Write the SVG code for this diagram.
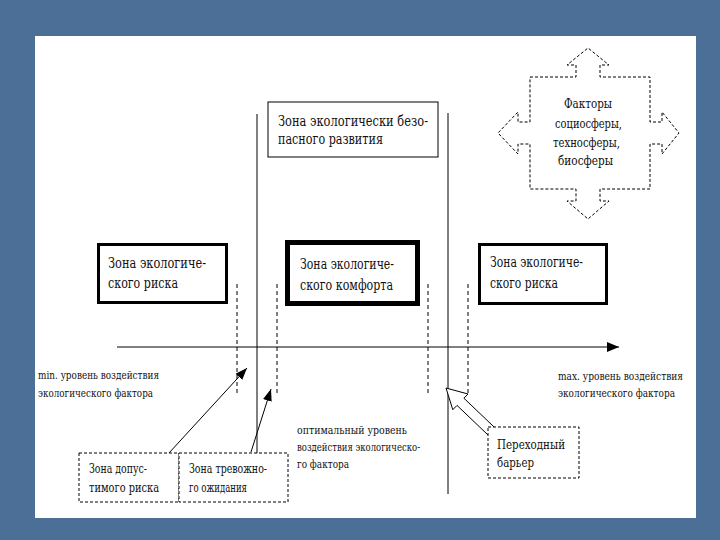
<svg xmlns="http://www.w3.org/2000/svg" width="720" height="540" viewBox="0 0 720 540">
<defs>
<marker id="ah" viewBox="0 0 12 10" refX="12" refY="5" markerWidth="12" markerHeight="10" markerUnits="userSpaceOnUse" orient="auto">
<path d="M0,0 L12,5 L0,10 Z" fill="#000"/>
</marker>
<marker id="ahs" viewBox="0 0 12 9" refX="12" refY="4.5" markerWidth="12" markerHeight="9" markerUnits="userSpaceOnUse" orient="auto">
<path d="M0,0 L12,4.5 L0,9 Z" fill="#000"/>
</marker>
</defs>
<style>
text{font-family:"DejaVu Serif","Liberation Serif",serif;fill:#111}
.t14{font-size:14px}
.t13{font-size:13px}
.t12{font-size:12.5px}
.t11{font-size:11px}
.thin{fill:#fff;stroke:#000;stroke-width:1}
.dash{fill:none;stroke:#000;stroke-width:1;stroke-dasharray:4 3}
.dashbox{fill:#fff;stroke:#000;stroke-width:1;stroke-dasharray:3 2}
.line{stroke:#000;stroke-width:1;fill:none}
</style>
<rect x="0" y="0" width="720" height="540" fill="#4b6f97"/>
<rect x="35" y="36" width="661" height="482" fill="#fff"/>

<g id="connectors">
<line class="line" x1="257" y1="114" x2="257" y2="453"/>
<line class="line" x1="448" y1="113" x2="448" y2="494"/>
<line class="dash" x1="237" y1="284" x2="237" y2="396"/>
<line class="dash" x1="277" y1="284" x2="277" y2="396"/>
<line class="dash" x1="428" y1="284" x2="428" y2="394"/>
<line class="dash" x1="468" y1="284" x2="468" y2="394"/>
<line class="line" x1="117" y1="347" x2="619" y2="347" marker-end="url(#ah)"/>
<line class="line" x1="169" y1="453" x2="247" y2="368" marker-end="url(#ahs)"/>
<line class="line" x1="251" y1="452" x2="271" y2="389" marker-end="url(#ahs)"/>
<path class="thin" d="M446,388 L468,394 L463.9,398.2 L494.5,427.4 L487.6,434.6 L457,405.4 L452.8,409.7 Z"/>
</g>

<g id="factors">
<path class="dashbox" stroke-width="1.4" d="M530,77 H576 V65 H567 L588,48 L609,65 H600 V77 H650 V122 H662 V112 L679,133 L662,154 V144 H650 V189 H600 V201 H609 L588,219 L567,201 H576 V189 H530 V144 H518 V154 L498,133 L518,112 V122 H530 Z"/>
<text class="t13" x="564" y="108" textLength="48" lengthAdjust="spacingAndGlyphs">Факторы</text>
<text class="t13" x="555" y="128" textLength="67" lengthAdjust="spacingAndGlyphs">социосферы,</text>
<text class="t13" x="553" y="147" textLength="67" lengthAdjust="spacingAndGlyphs">техносферы,</text>
<text class="t13" x="558" y="165" textLength="55" lengthAdjust="spacingAndGlyphs">биосферы</text>
</g>

<g id="safe-zone">
<rect class="thin" x="268" y="102" width="170" height="55"/>
<text class="t14" x="278" y="126" textLength="150" lengthAdjust="spacingAndGlyphs">Зона экологически безо-</text>
<text class="t14" x="278" y="144" textLength="105" lengthAdjust="spacingAndGlyphs">пасного развития</text>
</g>

<g id="risk-left">
<rect x="98.5" y="244.5" width="128" height="58" fill="#fff" stroke="#000" stroke-width="3"/>
<text class="t14" x="108" y="268" textLength="98" lengthAdjust="spacingAndGlyphs">Зона экологиче-</text>
<text class="t14" x="108" y="288" textLength="70" lengthAdjust="spacingAndGlyphs">ского риска</text>
</g>

<g id="comfort">
<rect x="287.5" y="242.5" width="130" height="61" fill="#fff" stroke="#000" stroke-width="5"/>
<text class="t14" x="300" y="269" textLength="94" lengthAdjust="spacingAndGlyphs">Зона экологиче-</text>
<text class="t14" x="300" y="290" textLength="93" lengthAdjust="spacingAndGlyphs">ского комфорта</text>
</g>

<g id="risk-right">
<rect x="479.5" y="244.5" width="127" height="59" fill="#fff" stroke="#000" stroke-width="3"/>
<text class="t14" x="490" y="267" textLength="93" lengthAdjust="spacingAndGlyphs">Зона экологиче-</text>
<text class="t14" x="490" y="288" textLength="68" lengthAdjust="spacingAndGlyphs">ского риска</text>
</g>

<g id="min-label">
<text class="t11" x="38" y="379" textLength="121" lengthAdjust="spacingAndGlyphs">min. уровень воздействия</text>
<text class="t11" x="38" y="397" textLength="115" lengthAdjust="spacingAndGlyphs">экологического фактора</text>
</g>

<g id="max-label">
<text class="t11" x="558" y="380" textLength="125" lengthAdjust="spacingAndGlyphs">max. уровень воздействия</text>
<text class="t11" x="558" y="397" textLength="117" lengthAdjust="spacingAndGlyphs">экологического фактора</text>
</g>

<g id="optimum-label">
<text class="t11" x="297" y="434" textLength="110" lengthAdjust="spacingAndGlyphs">оптимальный уровень</text>
<text class="t11" x="297" y="451" textLength="123" lengthAdjust="spacingAndGlyphs">воздействия экологическо-</text>
<text class="t11" x="297" y="468" textLength="52" lengthAdjust="spacingAndGlyphs">го фактора</text>
</g>

<g id="admissible-risk">
<rect class="dashbox" x="79" y="453" width="100" height="49"/>
<text class="t12" x="89" y="473" textLength="58" lengthAdjust="spacingAndGlyphs">Зона допус-</text>
<text class="t12" x="89" y="492" textLength="70" lengthAdjust="spacingAndGlyphs">тимого риска</text>
</g>

<g id="alarm-zone">
<rect class="dashbox" x="179" y="453" width="109" height="49"/>
<text class="t12" x="189" y="473" textLength="78" lengthAdjust="spacingAndGlyphs">Зона тревожно-</text>
<text class="t12" x="189" y="492" textLength="58" lengthAdjust="spacingAndGlyphs">го ожидания</text>
</g>

<g id="barrier">
<rect class="dashbox" stroke-width="1.8" x="488" y="427" width="91" height="51"/>
<text class="t13" x="497" y="449" font-size="13.5" textLength="68" lengthAdjust="spacingAndGlyphs">Переходный</text>
<text class="t13" x="497" y="467" font-size="13.5" textLength="37" lengthAdjust="spacingAndGlyphs">барьер</text>
</g>
</svg>
